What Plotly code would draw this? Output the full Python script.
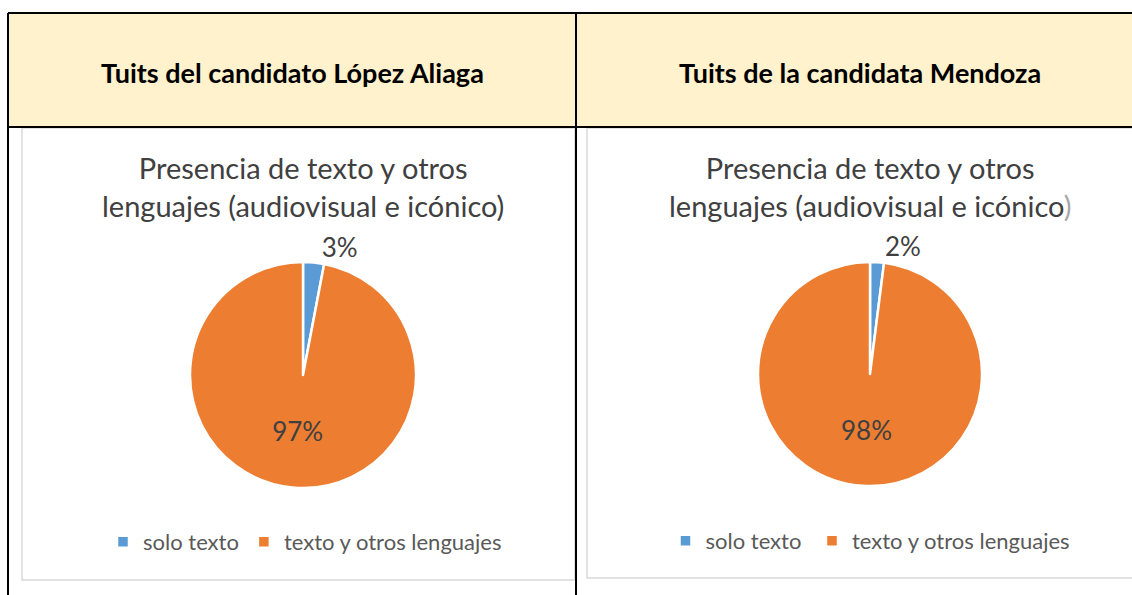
import plotly.graph_objects as go

W, H = 1132, 595

categories = ["solo texto", "texto y otros lenguajes"]
values_lopez = [3, 97]
values_mendoza = [2, 98]
headers = ["Tuits del candidato López Aliaga", "Tuits de la candidata Mendoza"]
chart_title = "Presencia de texto y otros<br>lenguajes (audiovisual e icónico"
colors = ["#5B9BD5", "#ED7D31"]


def px(x):
    return x / W


def py(y):
    return 1 - y / H


fig = go.Figure()

FONT = "Lato, Open Sans, sans-serif"
label_font = dict(family=FONT, size=26, color="#404040")

# second pie uses a trailing space so its legend entries are kept separate
pies = [
    (categories, values_lopez, dict(x=[px(190), px(416)], y=[py(488), py(262)]), "legend"),
    ([c + " " for c in categories], values_mendoza, dict(x=[px(758), px(982)], y=[py(486), py(262)]), "legend2"),
]
for labels, vals, dom, leg in pies:
    fig.add_trace(go.Pie(
        labels=labels, values=vals, sort=False, direction="clockwise", rotation=0,
        marker=dict(colors=colors, line=dict(color="white", width=2.5)),
        texttemplate="%{percent:.0%}", textposition=["outside", "inside"],
        insidetextorientation="horizontal",
        textfont=label_font, outsidetextfont=label_font, insidetextfont=label_font,
        domain=dom, legend=leg, hoverinfo="label+percent",
    ))

shapes = []
shapes.append(dict(type="rect", xref="paper", yref="paper", x0=px(8), x1=1.0, y0=py(127), y1=py(13),
                   fillcolor="#FFF2CC", line=dict(width=0), layer="below"))
shapes.append(dict(type="rect", xref="paper", yref="paper", x0=px(22), x1=px(575), y0=py(580), y1=py(128),
                   fillcolor="white", line=dict(color="#D9D9D9", width=1.5), layer="below"))
shapes.append(dict(type="rect", xref="paper", yref="paper", x0=px(587), x1=px(1140), y0=py(578), y1=py(128),
                   fillcolor="white", line=dict(color="#D9D9D9", width=1.5), layer="below"))
for (x0, y0, x1, y1) in [(8, 13, 1132, 13), (8, 127, 1132, 127), (8, 13, 8, 595), (576, 13, 576, 595)]:
    shapes.append(dict(type="line", xref="paper", yref="paper", x0=px(x0), x1=px(x1), y0=py(y0), y1=py(y1),
                       line=dict(color="black", width=2)))

annotations = []
for txt, cx in zip(headers, [292, 860]):
    annotations.append(dict(text="<b>%s</b>" % txt, x=px(cx), y=py(72), xref="paper", yref="paper",
                            showarrow=False, xanchor="center", yanchor="middle",
                            font=dict(family=FONT, size=27, color="black")))
for cx, extra in zip([303, 870], [")", "<span style='color:#A6A6A6'>)</span>"]):
    annotations.append(dict(text=chart_title + extra, x=px(cx), y=py(186), xref="paper", yref="paper",
                            showarrow=False, xanchor="center", yanchor="middle",
                            font=dict(family=FONT, size=29, color="#404040")))

legend_font = dict(family=FONT, size=22, color="#595959")
fig.update_layout(
    width=W, height=H, margin=dict(l=0, r=0, t=0, b=0),
    paper_bgcolor="white", plot_bgcolor="white",
    shapes=shapes, annotations=annotations,
    legend=dict(orientation="h", x=px(305), y=py(542), xanchor="center", yanchor="middle",
                font=legend_font, bgcolor="rgba(0,0,0,0)"),
    legend2=dict(orientation="h", x=px(873), y=py(541), xanchor="center", yanchor="middle",
                 font=legend_font, bgcolor="rgba(0,0,0,0)"),
)

fig.write_html("out.html", config={"displayModeBar": False})
with open("out.html", encoding="utf-8") as f:
    html = f.read()
html = html.replace("<head>", "<head><style>html,body{margin:0;padding:0;overflow:hidden}</style>", 1)
with open("out.html", "w", encoding="utf-8") as f:
    f.write(html)
